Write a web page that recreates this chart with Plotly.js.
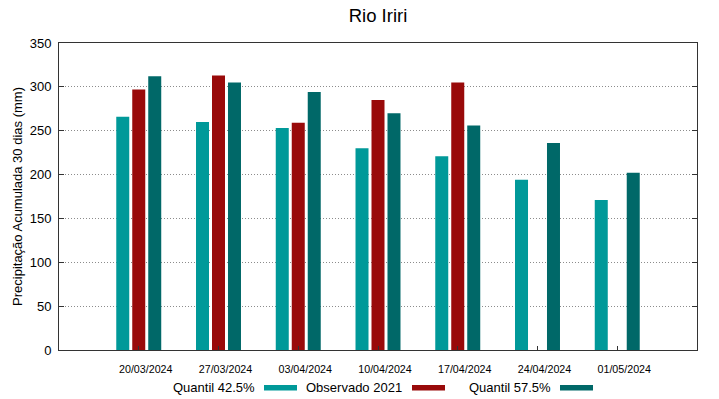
<!DOCTYPE html>
<html>
<head>
<meta charset="utf-8">
<script src="https://cdn.plot.ly/plotly-3.0.1.min.js"></script>
<style>html,body{margin:0;padding:0;background:#fff;}#chart{width:719px;height:399px;}</style>
</head>
<body>
<div id="chart"></div>
<script>
// Data
var categories = ["20/03/2024", "27/03/2024", "03/04/2024", "10/04/2024", "17/04/2024", "24/04/2024", "01/05/2024"];
var quantil425 = [266, 260, 253, 230, 221, 194, 171];
var observado2021 = [297, 313, 259, 285, 305, null, null];
var quantil575 = [312, 305, 294, 270, 256, 236, 202];
var seriesNames = ["Quantil 42.5%", "Observado 2021", "Quantil 57.5%"];
var yTicks = [0, 50, 100, 150, 200, 250, 300, 350];

var colors = ["#009999", "#990a0a", "#006868"];
var barW = 0.163;
var offsets = [-0.282, -0.0815, 0.119];
var seriesVals = [quantil425, observado2021, quantil575];

var traces = seriesVals.map(function (vals, i) {
  return {
    type: "bar",
    x: categories,
    y: vals,
    name: seriesNames[i],
    width: barW,
    offset: offsets[i],
    marker: {color: colors[i], line: {width: 0}},
    showlegend: false,
    hoverinfo: "x+y+name"
  };
});

// plot area in pixels
var L = 59, R = 697, T = 43, B = 350;
function px(x) { return (x - L) / (R - L); }
function py(y) { return (B - y) / (B - T); }

var legendY = 387.5;
var legendTextRight = [257, 404, 553];
var legendRect = [[264, 297], [412, 445], [560, 593]];

var annotations = [];
var shapes = [];
for (var i = 0; i < 3; i++) {
  annotations.push({
    xref: "paper", yref: "paper",
    x: px(legendTextRight[i]), y: py(legendY),
    xanchor: "right", yanchor: "middle",
    text: seriesNames[i], showarrow: false,
    font: {family: "Liberation Sans, Arial, sans-serif", size: 13, color: "#000"}
  });
  shapes.push({
    type: "rect", xref: "paper", yref: "paper",
    x0: px(legendRect[i][0]), x1: px(legendRect[i][1]),
    y0: py(legendY + 3), y1: py(legendY - 2.5),
    fillcolor: colors[i], line: {width: 0}
  });
}

var layout = {
  width: 719, height: 399,
  margin: {l: L, r: 719 - R, t: T, b: 399 - B, pad: 0},
  paper_bgcolor: "#fff", plot_bgcolor: "#fff",
  font: {family: "Liberation Sans, Arial, sans-serif", color: "#000"},
  title: {text: "Rio Iriri", x: 0.5, xref: "paper", xanchor: "center", y: 1 - 16 / 399, yanchor: "middle",
          font: {size: 18.5, color: "#000"}},
  barmode: "overlay",
  xaxis: {
    type: "category",
    range: [-1, 7],
    showgrid: false, zeroline: false,
    showline: true, linecolor: "#333", linewidth: 1, mirror: true,
    ticks: "inside", ticklen: 4, tickcolor: "#333",
    tickfont: {size: 10.7, color: "#000"},
    ticklabelshift: 7,
    ticklabelstandoff: 9,
    fixedrange: true
  },
  yaxis: {
    range: [0, 350],
    tickvals: yTicks,
    showgrid: true, gridcolor: "#8c8c8c", griddash: "1px,2px", gridwidth: 1,
    zeroline: false,
    showline: true, linecolor: "#333", linewidth: 1, mirror: "ticks",
    ticks: "inside", ticklen: 5, tickcolor: "#333",
    tickfont: {size: 13, color: "#000"},
    ticklabelstandoff: 4,
    title: {text: "Precipitação Acumulada 30 dias (mm)", font: {size: 13, color: "#000"}, standoff: 4},
    fixedrange: true
  },
  annotations: annotations,
  shapes: shapes
};

Plotly.newPlot("chart", traces, layout, {displayModeBar: false, staticPlot: true});
</script>
</body>
</html>
